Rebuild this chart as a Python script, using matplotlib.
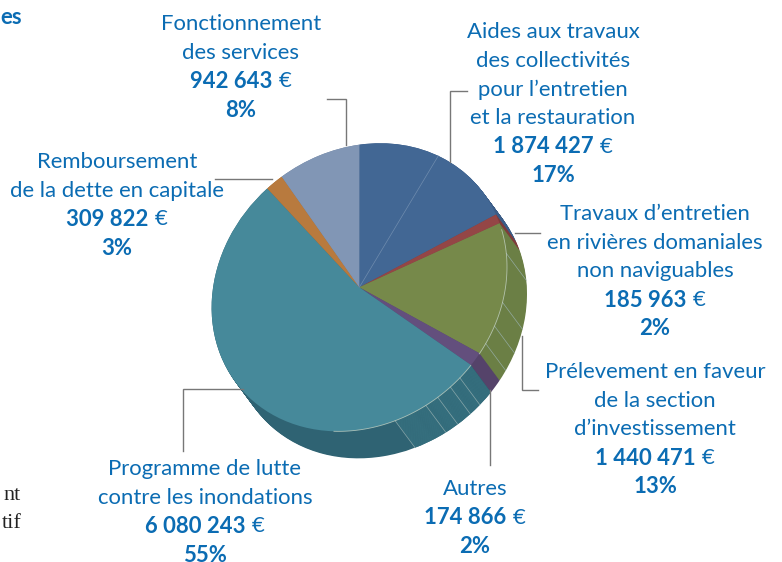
import numpy as np
import matplotlib
matplotlib.use('Agg')
import matplotlib.pyplot as plt
from matplotlib.patches import Wedge
from matplotlib.transforms import Affine2D

# postes du budget, dans le sens des aiguilles depuis le haut
labels = [
    ['Aides aux travaux', 'des collectivités', 'pour l’entretien', 'et la restauration'],
    ['Travaux d’entretien', 'en rivières domaniales', 'non naviguables'],
    ['Prélevement en faveur', 'de la section', 'd’investissement'],
    ['Autres'],
    ['Programme de lutte', 'contre les inondations'],
    ['Remboursement', 'de la dette en capitale'],
    ['Fonctionnement', 'des services'],
]
amounts = [1874427, 185963, 1440471, 174866, 6080243, 309822, 942643]
percents = ['17%', '2%', '13%', '2%', '55%', '3%', '8%']
# parts telles que dessinees sur le disque (la 3D de l'original les deforme)
drawn_shares = [18.8, 1.1, 14.9, 1.5, 52.9, 1.9, 8.8]

top_colors = ['#426794', '#944646', '#76894A', '#634F7D', '#46899A', '#B87A3E', '#8196B5']
wall_colors = ['#3A5C87', '#7E3B3B', '#6B7F45', '#55436A', '#2F6373', '#9A6633', '#6E829E']

label_x = [553, 655, 655, 475, 205, 117, 241]
label_y = [31, 213, 371, 488, 468, 161, 23]
line_step = 28.7

BLUE = '#0B6CB3'
GREY = '#777777'
W, H = 782, 562

# le disque est une ellipse inclinee (pie 3D)
cx, cy = 359.3, 287.3
rx, ry = 156, 135
tilt = np.radians(40)
depth = (20, 27)
start = 94


def disc_matrix(t=0.0):
    c, s = np.cos(tilt), np.sin(tilt)
    rot = np.array([[c, -s], [s, c]])
    m = rot @ np.diag([rx, ry]) @ rot.T
    m = np.diag([1, -1]) @ m
    out = np.eye(3)
    out[:2, :2] = m
    out[0, 2] = cx + t * depth[0]
    out[1, 2] = cy + t * depth[1]
    return out


def disc_angle(img_deg):
    # angle vu sur l'image -> angle dans le disque
    a = np.radians(img_deg)
    v = np.linalg.solve(disc_matrix()[:2, :2], [np.cos(a), -np.sin(a)])
    return np.degrees(np.arctan2(v[1], v[0]))


def rim(img_deg, t=0.0):
    a = np.radians(disc_angle(img_deg))
    return disc_matrix(t) @ np.array([np.cos(a), np.sin(a), 1])


fig = plt.figure(figsize=(W / 100, H / 100), dpi=100)
ax = fig.add_axes([0, 0, 1, 1])

# parois : on empile des disques sombres
for t in np.linspace(1, 0, 36):
    tr = Affine2D(disc_matrix(t)) + ax.transData
    wedges, _ = ax.pie(drawn_shares, colors=wall_colors, startangle=start, counterclock=False,
                       wedgeprops={'linewidth': 0})
    for w in wedges:
        w.set_transform(tr)
    # partie droite de la paroi plus claire
    light = Wedge((0, 0), 1, disc_angle(-75), disc_angle(-35), color='#36707F', lw=0)
    ax.add_patch(light)
    light.set_transform(tr)

# coutures de la paroi
seams = [13, -6, -16, -24, -42, -47.6, -54.5, -60.6, -75]
for a in seams:
    p0, p1 = rim(a), rim(a, 1)
    ax.plot([p0[0], p1[0]], [p0[1], p1[1]], color='#9DB5B5', lw=0.5, alpha=0.8)

# face du dessus
top, _ = ax.pie(drawn_shares, colors=top_colors, startangle=start, counterclock=False,
                wedgeprops={'linewidth': 0})
for w in top:
    w.set_transform(Affine2D(disc_matrix()) + ax.transData)

# filets clairs
p = rim(59)
ax.plot([cx, p[0]], [cy, p[1]], color='#6F8CAE', lw=0.5)
for a0, a1 in [(22, -29), (-35, -100)]:
    arc = np.array([rim(a) for a in np.linspace(a0, a1, 60)])
    ax.plot(arc[:, 0], arc[:, 1], color='#C5D3C5', lw=0.6, alpha=0.8)

# traits de rappel
leaders = [
    ([467, 450, 450], [91, 91, 162]),
    ([515, 540], [233, 233]),
    ([522, 522, 538], [336, 390, 390]),
    ([490, 490], [390, 465]),
    ([243, 183, 183], [389, 389, 451]),
    ([215, 272], [179, 179]),
    ([327, 346, 346], [99, 99, 145]),
]
for xs, ys in leaders:
    ax.plot(xs, ys, color=GREY, lw=1, solid_joinstyle='miter')

ax.set_xlim(0, W)
ax.set_ylim(H, 0)
ax.set_aspect('auto')
ax.axis('off')

FONT = 'Lato'
SIZE = 15.9
renderer = fig.canvas.get_renderer()

for i, lines in enumerate(labels):
    y = label_y[i] + 1
    for line in lines:
        ax.text(label_x[i], y, line, color=BLUE, fontsize=SIZE, family=FONT, ha='center', va='center')
        y += line_step
    # montant en gras, euro en maigre
    num = f'{amounts[i]:,}'.replace(',', ' ')
    t1 = ax.text(0, y, num, color=BLUE, fontsize=SIZE, family=FONT, weight='bold', ha='left', va='center')
    t2 = ax.text(0, y, '€', color=BLUE, fontsize=SIZE, family=FONT, ha='left', va='center')
    w1 = t1.get_window_extent(renderer).width
    w2 = t2.get_window_extent(renderer).width
    x0 = label_x[i] - (w1 + 6 + w2) / 2
    t1.set_x(x0)
    t2.set_x(x0 + w1 + 6)
    y += line_step
    ax.text(label_x[i], y, percents[i], color=BLUE, fontsize=SIZE, family=FONT, weight='bold', ha='center', va='center')

# bouts de texte coupes de la colonne voisine
ax.text(0, 17, 'es', color=BLUE, fontsize=SIZE, family=FONT, weight='bold', ha='left', va='center')
ax.text(21, 496, 'nt', color='#222222', fontsize=16, family='Liberation Serif', ha='right', va='center')
ax.text(22, 524, 'tif', color='#222222', fontsize=16, family='Liberation Serif', ha='right', va='center')

fig.savefig('out.png', dpi=100)
